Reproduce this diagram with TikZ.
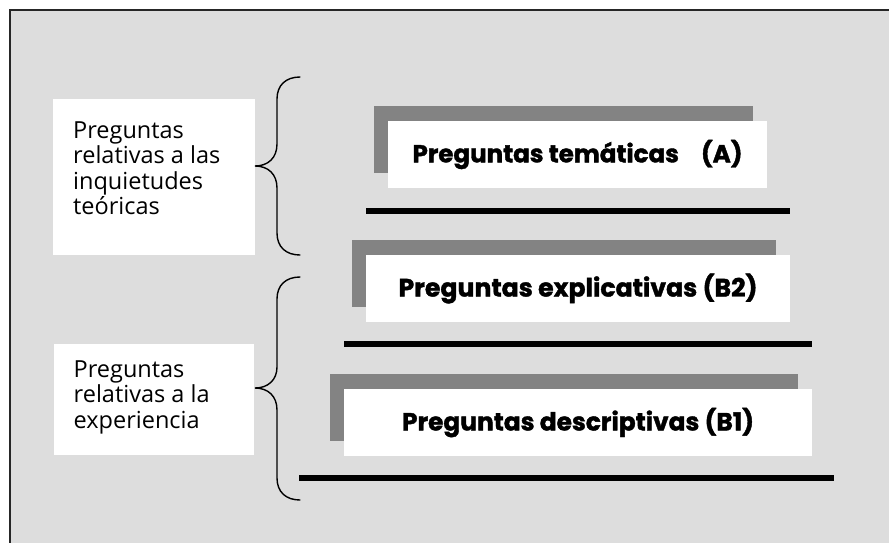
\documentclass[tikz,border=0pt]{standalone}
\usepackage{fontspec}
\setmainfont{Open Sans}
\newfontfamily\heavyfont[BoldFeatures={FakeBold=1.6}]{Poppins}
\usetikzlibrary{shadows}
\definecolor{bgcol}{HTML}{DDDDDD}
\definecolor{shadecol}{HTML}{838383}
\newcommand\topictext[2]{\raisebox{3.5pt}{\resizebox{#2}{!}{\heavyfont\bfseries #1}}}
\tikzset{
  frame/.style={draw=black!85, line width=1.5pt, fill=bgcol},
  labelbox/.style={fill=white, draw=none, inner sep=0pt, anchor=north west},
  labeltext/.style={anchor=base west, inner sep=0pt, font=\fontsize{23.5}{25.5}\selectfont},
  topicbox/.style={fill=white, draw=none, inner sep=0pt, minimum height=67pt,
    drop shadow={shadow xshift=-14.5pt, shadow yshift=15pt, fill=shadecol, opacity=1}},
  rule/.style={line width=6pt, black},
  bracestyle/.style={line width=1.4pt, black, line cap=round}
}
\begin{document}
\begin{tikzpicture}[x=1pt,y=-1pt]
\useasboundingbox (0,0) rectangle (889,542);
\path[frame] (10,10) rectangle (905,560);

% left label boxes
\node[labelbox, minimum width=202pt, minimum height=156pt] (L1) at (53,99) {};
\node[labelbox, minimum width=200pt, minimum height=111pt] (L2) at (54,344) {};
\node[labeltext] (T1) at ([shift={(20,39)}]L1.north west)
  {\parbox[t]{180pt}{Preguntas\\relativas a las\\inquietudes\\teóricas}};
\node[labeltext] (T2) at ([shift={(19.5,33)}]L2.north west)
  {\parbox[t]{180pt}{Preguntas\\relativas a la\\experiencia}};

% braces
\draw[bracestyle] (300,77) .. controls (286,77) and (277,85) .. (277,99)
  -- (277,144) .. controls (277,158) and (268,166) .. (255,166)
  .. controls (268,166) and (277,174) .. (277,188)
  -- (277,233) .. controls (277,247) and (286,255) .. (300,255);
\draw[bracestyle] (300,277) .. controls (286,277) and (277,285) .. (277,299)
  -- (277,367) .. controls (277,380) and (268,388) .. (255,388)
  .. controls (268,388) and (277,396) .. (277,410)
  -- (277,478) .. controls (277,492) and (286,500) .. (300,500);

% topic boxes
\node[topicbox, minimum width=379pt] (A) at (577.5,154.5)
  {\topictext{Preguntas temáticas\hspace{0.9em}(A)}{330pt}};
\node[topicbox, minimum width=424pt] (B2) at (578,288.5)
  {\topictext{Preguntas explicativas (B2)}{359pt}};
\node[topicbox, minimum width=468pt] (B1) at (578,422.5)
  {\topictext{Preguntas descriptivas (B1)}{352pt}};

% rules
\coordinate (a1) at (366,211);
\coordinate (a2) at (790,211);
\coordinate (b21) at (344,344);
\coordinate (b22) at (812,344);
\coordinate (b11) at (299,478);
\coordinate (b12) at (834,478);
\draw[rule] (a1) -- (a2);
\draw[rule] (b21) -- (b22);
\draw[rule] (b11) -- (b12);
\end{tikzpicture}
\end{document}
